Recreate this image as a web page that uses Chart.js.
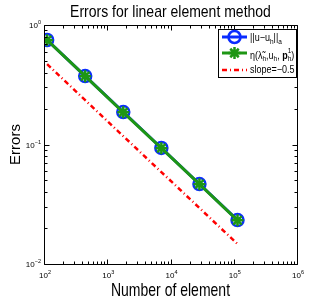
<!DOCTYPE html>
<html>
<head>
<meta charset="utf-8">
<script src="https://cdn.jsdelivr.net/npm/chart.js@4"></script>
<style>
html, body { margin: 0; padding: 0; background: #fff; }
#wrap { width: 327px; height: 300px; }
</style>
</head>
<body>
<div id="wrap"><canvas id="myChart"></canvas></div>
<script>
// number of elements and the two error curves
var elements = [112, 448, 1792, 7168, 28672, 114688];
var errNorm = [0.749, 0.374, 0.187, 0.0935, 0.0467, 0.0233];
var errEta = [0.746, 0.373, 0.186, 0.0932, 0.0466, 0.0232];
var slopeRef = [0.47, 0.235, 0.1175, 0.0588, 0.0294, 0.0147];
var xExps = [2, 3, 4, 5, 6];
var yExps = [-2, -1, 0];

var FONT = '"Liberation Sans", Arial, Helvetica, sans-serif';
var BLUE = '#0a2cff', GREEN = '#1e9614', RED = '#ff0000';

function pts(ys) {
    return elements.map(function (x, i) { return { x: x, y: ys[i] }; });
}

function stretchText(ctx, str, x, y, size, sy, align, rot) {
    ctx.save();
    ctx.translate(x, y);
    if (rot) ctx.rotate(rot);
    ctx.scale(1, sy);
    ctx.font = size + 'px ' + FONT;
    ctx.textAlign = align || 'center';
    ctx.textBaseline = 'alphabetic';
    ctx.fillStyle = '#000';
    ctx.fillText(str, 0, 0);
    ctx.restore();
}

// "10" with a small exponent
function powLabel(ctx, exp, x, y, align) {
    var e = exp < 0 ? '\u2212' + (-exp) : String(exp);
    ctx.font = '8px ' + FONT;
    var w1 = ctx.measureText('10').width;
    ctx.font = '5.5px ' + FONT;
    var w2 = ctx.measureText(e).width;
    var x0 = align === 'right' ? x - w1 - w2 : x - (w1 + w2) / 2;
    ctx.fillStyle = '#000';
    ctx.textAlign = 'left';
    ctx.textBaseline = 'alphabetic';
    ctx.font = '8px ' + FONT;
    ctx.fillText('10', x0, y);
    ctx.font = '5.5px ' + FONT;
    ctx.fillText(e, x0 + w1, y - 4);
}

// text runs with sub / sup / bold pieces
function richText(ctx, parts, x, y) {
    var cx = x;
    ctx.save();
    ctx.translate(0, y);
    ctx.scale(1, 1.15);
    parts.forEach(function (p) {
        var size = (p.sub || p.sup) ? 6.5 : 9;
        ctx.font = (p.bold ? 'bold ' : '') + size + 'px ' + FONT;
        ctx.fillStyle = '#000';
        ctx.textAlign = 'left';
        ctx.textBaseline = 'alphabetic';
        var dy = p.sub ? 2.5 : (p.sup ? -4 : 0);
        ctx.fillText(p.t, cx, dy);
        if (p.stack) {
            ctx.fillText(p.stack, cx, -4.5);
        }
        cx += ctx.measureText(p.t).width;
    });
    ctx.restore();
}

var axesPlugin = {
    id: 'matlabAxes',
    afterDatasetsDraw: function (chart) {
        var ctx = chart.ctx, a = chart.chartArea;
        var xs = chart.scales.x, ys = chart.scales.y;
        ctx.save();
        ctx.strokeStyle = '#000';
        ctx.lineWidth = 1;
        var L = Math.round(a.left) + 0.5, R = Math.round(a.right) + 0.5;
        var T = Math.round(a.top) + 0.5, B = Math.round(a.bottom) + 0.5;
        ctx.beginPath();
        ctx.rect(L, T, R - L, B - T);
        // x ticks, inward, top and bottom
        for (var d = xExps[0]; d <= xExps[xExps.length - 1]; d++) {
            for (var k = 1; k <= 9; k++) {
                var v = k * Math.pow(10, d);
                if (v > xs.max * 1.0001) break;
                var px = Math.round(xs.getPixelForValue(v)) + 0.5;
                var len = k === 1 ? 5 : 3;
                ctx.moveTo(px, B); ctx.lineTo(px, B - len);
                ctx.moveTo(px, T); ctx.lineTo(px, T + len);
            }
        }
        for (var e = yExps[0]; e <= yExps[yExps.length - 1]; e++) {
            for (var j = 1; j <= 9; j++) {
                var w = j * Math.pow(10, e);
                if (w > ys.max * 1.0001) break;
                var py = Math.round(ys.getPixelForValue(w)) + 0.5;
                var l2 = j === 1 ? 5 : 3;
                ctx.moveTo(L, py); ctx.lineTo(L + l2, py);
                ctx.moveTo(R, py); ctx.lineTo(R - l2, py);
            }
        }
        ctx.stroke();

        xExps.forEach(function (ex) {
            powLabel(ctx, ex, xs.getPixelForValue(Math.pow(10, ex)) + 1, a.bottom + 14);
        });
        yExps.forEach(function (ex) {
            powLabel(ctx, ex, a.left - 3, ys.getPixelForValue(Math.pow(10, ex)) + 3, 'right');
        });

        var cxm = (a.left + a.right) / 2, cym = (a.top + a.bottom) / 2;
        stretchText(ctx, 'Errors for linear element method', cxm, 17, 14, 1.2);
        stretchText(ctx, 'Number of element', cxm, 296, 14, 1.3);
        stretchText(ctx, 'Errors', 20, cym, 15, 1.0, 'center', -Math.PI / 2);

        // legend box
        var bx = 218.5, by = 29.5, bw = 78, bh = 48;
        ctx.fillStyle = '#fff';
        ctx.fillRect(bx, by, bw, bh);
        ctx.strokeStyle = '#000';
        ctx.lineWidth = 1;
        ctx.strokeRect(bx, by, bw, bh);
        var rows = [37, 53, 70];
        var sx0 = 222, sx1 = 247, mx = 234.5;
        // blue
        ctx.lineWidth = 3; ctx.strokeStyle = BLUE; ctx.setLineDash([]);
        ctx.beginPath(); ctx.moveTo(sx0, rows[0]); ctx.lineTo(sx1, rows[0]); ctx.stroke();
        ctx.lineWidth = 2.5;
        ctx.beginPath(); ctx.arc(mx, rows[0], 6, 0, Math.PI * 2); ctx.stroke();
        // green
        ctx.lineWidth = 3; ctx.strokeStyle = GREEN;
        ctx.beginPath(); ctx.moveTo(sx0, rows[1]); ctx.lineTo(sx1, rows[1]); ctx.stroke();
        ctx.lineWidth = 2.5;
        ctx.beginPath();
        for (var s = 0; s < 4; s++) {
            var ang = s * Math.PI / 4;
            ctx.moveTo(mx - 6 * Math.cos(ang), rows[1] - 6 * Math.sin(ang));
            ctx.lineTo(mx + 6 * Math.cos(ang), rows[1] + 6 * Math.sin(ang));
        }
        ctx.stroke();
        // red
        ctx.lineWidth = 2.5; ctx.strokeStyle = RED; ctx.setLineDash([5, 3, 1, 3]);
        ctx.beginPath(); ctx.moveTo(sx0, rows[2]); ctx.lineTo(sx1, rows[2]); ctx.stroke();
        ctx.setLineDash([]);

        richText(ctx, [{ t: '||u\u2212u' }, { t: 'h', sub: true }, { t: '||' }, { t: 'a', sub: true }], 250, 41);
        richText(ctx, [{ t: '\u03b7(' }, { t: '\u03bb\u0303' }, { t: 'h', sub: true }, { t: ',u' }, { t: 'h', sub: true },
            { t: ', ' }, { t: 'p', bold: true }, { t: 'h', sub: true, stack: '1' }, { t: ')' }], 250, 58.5);
        richText(ctx, [{ t: 'slope=\u22120.5' }], 250, 72.5);
        ctx.restore();
    }
};

var ctx = document.getElementById('myChart').getContext('2d');
var chart = new Chart(ctx, {
    type: 'line',
    data: {
        datasets: [{
            label: '||u-u_h||_a',
            data: pts(errNorm),
            borderColor: BLUE,
            borderWidth: 3,
            pointStyle: 'circle',
            pointRadius: 6,
            pointBorderWidth: 2.5,
            pointBorderColor: BLUE,
            pointBackgroundColor: 'rgba(0,0,0,0)',
            order: 2
        }, {
            label: 'eta',
            data: pts(errEta),
            borderColor: GREEN,
            borderWidth: 3,
            pointStyle: 'star',
            pointRadius: 6,
            pointBorderWidth: 2.5,
            pointBorderColor: GREEN,
            pointBackgroundColor: GREEN,
            order: 1
        }, {
            label: 'slope=-0.5',
            data: pts(slopeRef),
            borderColor: RED,
            borderWidth: 2.5,
            borderDash: [5, 3, 1, 3],
            pointRadius: 0,
            order: 3
        }]
    },
    options: {
        responsive: true,
        maintainAspectRatio: false,
        animation: false,
        devicePixelRatio: 1,
        layout: { padding: { top: 25, right: 30, left: 0, bottom: 0 } },
        plugins: { legend: { display: false }, title: { display: false }, tooltip: { enabled: false } },
        scales: {
            x: {
                type: 'logarithmic', min: 100, max: 1e6,
                grid: { display: false, drawTicks: false }, border: { display: false },
                ticks: { display: false },
                afterFit: function (s) { s.height = 36; }
            },
            y: {
                type: 'logarithmic', min: 0.01, max: 1,
                grid: { display: false, drawTicks: false }, border: { display: false },
                ticks: { display: false },
                afterFit: function (s) { s.width = 44; }
            }
        }
    },
    plugins: [axesPlugin]
});
</script>
</body>
</html>
